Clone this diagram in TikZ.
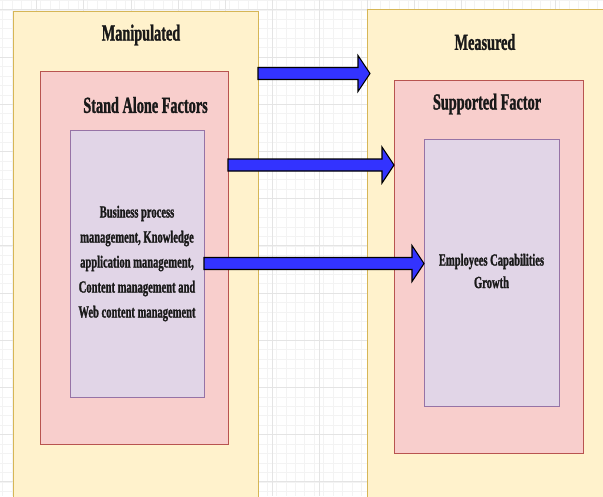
\documentclass[tikz,border=0pt]{standalone}
\usepackage{fontspec}
\setmainfont{Liberation Serif}[FakeStretch=0.62,BoldFeatures={FakeBold=1.2}]
\usetikzlibrary{calc}
\definecolor{yfill}{HTML}{FFF2CC}
\definecolor{ydraw}{HTML}{D6B656}
\definecolor{pfill}{HTML}{F8CECC}
\definecolor{pdraw}{HTML}{B85450}
\definecolor{vfill}{HTML}{E1D5E7}
\definecolor{vdraw}{HTML}{9673A6}
\definecolor{bluearrow}{RGB}{51,51,255}
\definecolor{gminor}{HTML}{F3F3F3}
\definecolor{gmajor}{HTML}{E4E4E4}
\tikzset{
  boxbase/.style={rectangle, anchor=north west, inner sep=0pt, outer sep=0pt, line width=0.9pt},
  ybox/.style={boxbase, fill=yfill, draw=ydraw},
  pbox/.style={boxbase, fill=pfill, draw=pdraw},
  vbox/.style={boxbase, fill=vfill, draw=vdraw},
  headtxt/.style={font=\fontsize{23}{27}\selectfont\bfseries, text=black!90, inner sep=0pt},
  bodytxt/.style={font=\fontsize{17}{25}\selectfont\bfseries, text=black!90, align=center, inner sep=0pt},
  barrow/.style={fill=bluearrow, draw=black, line width=1.1pt, line join=miter},
  gridminor/.style={gminor, line width=0.6pt},
  gridmajor/.style={gmajor, line width=0.8pt}
}
\newcommand\blockarrow[2]{%
  \draw[barrow] ($(#1)+(0,-6)$) -- ($(#2)+(-12,-6)$) -- ($(#2)+(-12,-18)$) -- (#2)
    -- ($(#2)+(-12,18)$) -- ($(#2)+(-12,6)$) -- ($(#1)+(0,6)$) -- cycle;}
\begin{document}
\begin{tikzpicture}[x=1pt, y=-1pt]
\useasboundingbox (0,0) rectangle (603,496);
\fill[white] (0,0) rectangle (603,496);
\begin{scope}
\clip (0,0) rectangle (603,496);
% grid
\foreach \i in {-1,...,64} {
  \draw[gridminor] ({\i*9.44+2.6},0) -- ({\i*9.44+2.6},496);
  \draw[gridminor] (0,{\i*9.44+0.4}) -- (603,{\i*9.44+0.4});
}
\foreach \i in {-1,...,13} {
  \draw[gridmajor] ({\i*47.2+36.6},0) -- ({\i*47.2+36.6},496);
  \draw[gridmajor] (0,{\i*47.2+9.8}) -- (603,{\i*47.2+9.8});
}
% boxes
\node[ybox, minimum width=245pt, minimum height=495pt] (ly) at (13,11) {};
\node[pbox, minimum width=188pt, minimum height=373pt] (lp) at (40,71) {};
\node[vbox, minimum width=134pt, minimum height=267pt] (lv) at (70,130) {};
\node[ybox, minimum width=250pt, minimum height=500pt] (ry) at (367,9) {};
\node[pbox, minimum width=189pt, minimum height=373pt] (rp) at (394,80) {};
\node[vbox, minimum width=135pt, minimum height=267pt] (rv) at (424,139) {};
\end{scope}
% texts
\node[headtxt] (t1) at (141,35) {Manipulated};
\node[headtxt] (t2) at (145.5,105) {Stand Alone Factors};
\node[bodytxt] (t3) at (137,263.5) {Business process\\management, Knowledge\\application management,\\Content management and\\Web content management};
\node[headtxt] (t4) at (485,42) {Measured};
\node[headtxt] (t5) at (487,104) {Supported Factor};
\node[bodytxt, font=\fontsize{17}{22.5}\selectfont\bfseries] (t6) at (491.5,271) {Employees Capabilities\\Growth};
% arrows
\coordinate (a1s) at (ly.east |- 0,73.5);
\coordinate (a1e) at (370,73.5);
\coordinate (a2s) at (lp.east |- 0,165);
\coordinate (a2e) at (rp.west |- 0,165);
\coordinate (a3s) at (lv.east |- 0,263.5);
\coordinate (a3e) at (rv.west |- 0,263.5);
\blockarrow{a1s}{a1e}
\blockarrow{a2s}{a2e}
\blockarrow{a3s}{a3e}
\end{tikzpicture}
\end{document}
